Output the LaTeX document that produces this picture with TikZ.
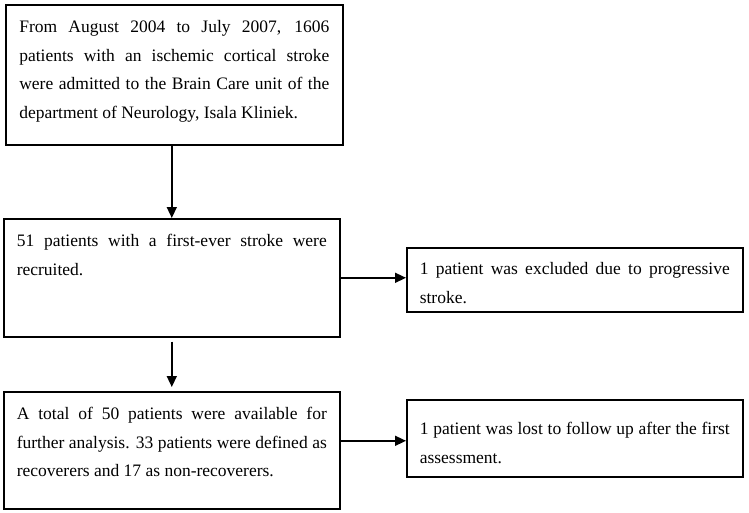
\documentclass[tikz,border=0pt]{standalone}
\usepackage{fontspec}
\setmainfont{Liberation Serif}
\usetikzlibrary{arrows.meta}
\hyphenpenalty=10000
\exhyphenpenalty=10000
\emergencystretch=20pt
\begin{document}
\begin{tikzpicture}[x=1pt,y=1pt,
  box/.style={draw, line width=1.6pt, rectangle, anchor=north west, inner xsep=13pt, inner ysep=0pt,
    text width=310pt, align=justify, text height=28pt,
    font=\fontsize{17.5}{28.5}\selectfont},
  arr/.style={-{Triangle[length=11pt,width=10pt]}, line width=1.5pt}]
\useasboundingbox[fill=white] (0,0) rectangle (749,-513);
\node[box, minimum width=337pt, minimum height=140pt, text depth=112pt] (b1) at (5,-4)
  {From August 2004 to July 2007, 1606\linebreak patients with an ischemic cortical stroke\linebreak were admitted to the Brain Care unit of the\linebreak department of Neurology, Isala Kliniek.};
\node[box, minimum width=336pt, minimum height=118pt, text depth=90pt] (b2) at (3,-218)
  {51 patients with a first-ever stroke were\linebreak recruited.};
\node[box, minimum width=336pt, minimum height=64pt, text height=27pt, text depth=37pt] (b3) at (406,-247)
  {1 patient was excluded due to progressive\linebreak stroke.};
\node[box, minimum width=335pt, minimum height=117pt, text depth=89pt] (b4) at (3,-391)
  {A total of 50 patients were available for\linebreak further analysis. 33 patients were defined as\linebreak recoverers and 17 as non-recoverers.};
\node[box, minimum width=336pt, minimum height=77pt, text height=35pt, text depth=42pt] (b5) at (406,-399)
  {1 patient was lost to follow up after the first\linebreak assessment.};
\draw[arr] (b2.north |- b1.south) -- (b2.north);
\draw[arr] (b2.east) -- (b3.west |- b2.east);
\draw[arr] ([yshift=-4pt]b4.north |- b2.south) -- ([yshift=4pt]b4.north);
\draw[arr] ([yshift=-2.5pt]b5.west -| b4.east) -- ([yshift=-2.5pt]b5.west);
\end{tikzpicture}
\end{document}
